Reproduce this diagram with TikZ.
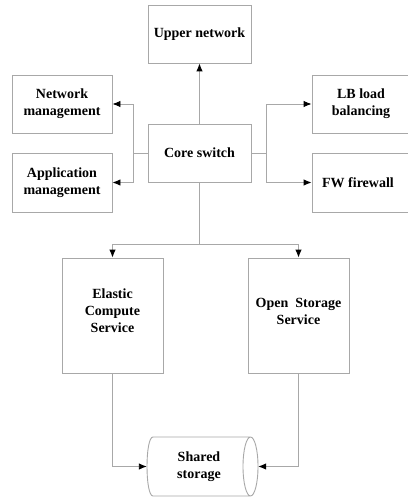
\documentclass[tikz,border=0pt]{standalone}
\usepackage{fontspec}
\setmainfont{Liberation Serif}
\usetikzlibrary{arrows.meta}
\definecolor{edgegray}{HTML}{A8A8A8}
\tikzset{
  blk/.style={draw=edgegray, line width=0.9pt, rectangle, inner sep=0pt},
  lbl/.style={align=center, font=\bfseries\fontsize{14}{17}\selectfont, inner sep=0pt},
  conn/.style={draw=edgegray, line width=0.9pt},
  arr/.style={conn, -{Latex[black,length=8pt,width=6.5pt]}},
}
\begin{document}
\begin{tikzpicture}[x=1pt,y=-1pt]
\useasboundingbox (0,0) rectangle (407,497);
\fill[white] (0,0) rectangle (407,497);

% top row and side boxes
\node[blk, minimum width=103pt, minimum height=58pt] (up)   at (199.5,34)  {};
\node[lbl] (upt) at (up.center) {Upper network};
\node[blk, minimum width=100pt, minimum height=58pt] (net)  at (62,104)    {};
\node[lbl] (nett) at (net.center) {Network\\management};
\node[blk, minimum width=100pt, minimum height=59pt] (app)  at (62,182.5)  {};
\node[lbl] (appt) at (app.center) {Application\\management};
\node[blk, minimum width=103pt, minimum height=58pt] (core) at (199.5,153) {};
\node[lbl] (coret) at (core.center) {Core switch};
\node[blk, minimum width=103pt, minimum height=58pt] (lb)   at (363.5,104) {};
\node[lbl] (lbt) at (361,104) {LB load\\balancing};
\node[blk, minimum width=103pt, minimum height=59pt] (fw)   at (363.5,182.5) {};
\node[lbl] (fwt) at (358,182.5) {FW firewall};

% service boxes
\node[blk, minimum width=101pt, minimum height=115pt] (ecs) at (112.5,315.5) {};
\node[lbl] (ecst) at (112.5,311) {Elastic\\Compute\\Service};
\node[blk, minimum width=101pt, minimum height=115pt] (oss) at (298.5,315.5) {};
\node[lbl] (osst) at (298.5,311) {Open~~Storage\\Service};

% shared storage cylinder
\node[minimum width=111pt, minimum height=59pt, inner sep=0pt] (sh) at (202.5,466.5) {};
\draw[conn] (153,437) -- (250.5,437)
            (153,496) -- (250.5,496)
            (153,437) .. controls (145,437) and (145,496) .. (153,496)
            (250.5,466.5) ellipse [x radius=7.5, y radius=29.5];
\node[lbl] (sht) at (199,466.5) {Shared\\storage};

% connectors
\draw[arr] (core.north) -- (up.south);
\coordinate (lj) at (133,153);
\coordinate (rj) at (266,153);
\coordinate (bj) at (199.5,244);
\draw[conn] (core.west) -- (lj);
\draw[arr] (lj) |- (net.east);
\draw[arr] (lj) |- (app.east);
\draw[conn] (core.east) -- (rj);
\draw[arr] (rj) |- (lb.west);
\draw[arr] (rj) |- (fw.west);
\draw[conn] (core.south) -- (bj);
\draw[arr] (bj) -| (ecs.north);
\draw[arr] (bj) -| (oss.north);
\draw[arr] (ecs.south) |- (sh.west);
\draw[arr] (oss.south) |- (sh.east);
\end{tikzpicture}
\end{document}
